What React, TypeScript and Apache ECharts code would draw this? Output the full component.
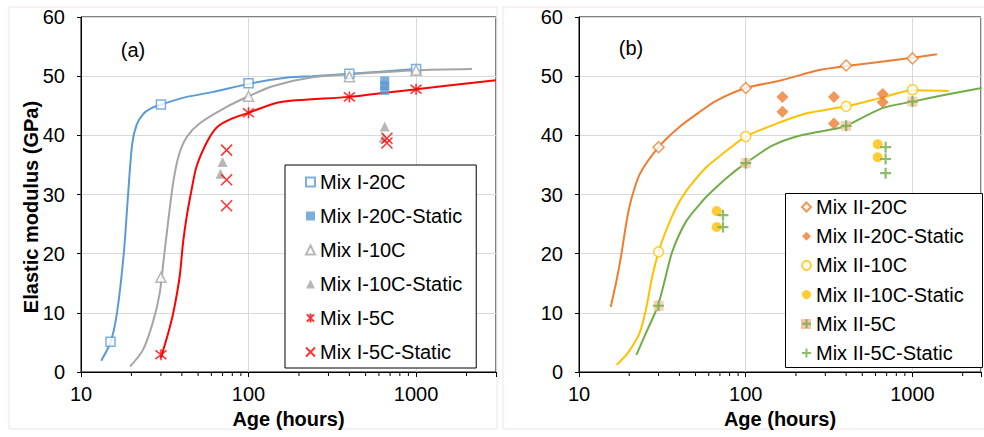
import React, { useEffect, useRef } from 'react';
import * as echarts from 'echarts';

const FONT = '"Liberation Sans", Arial, Helvetica, sans-serif';

// ---- tick values ----
const xLabelValues = [10, 100, 1000];
const minorTickValues = [20, 30, 40, 50, 60, 70, 80, 90, 200, 300, 400, 500, 600, 700, 800, 900, 2000];
const axisMaxA = 3000;
const axisMaxB = 2576;

// ---- panel (a) ----
const mixI20CCurve = [[13.2, 1.9], [15, 5], [16.4, 10], [18, 20], [19.1, 30], [20.2, 38.5], [21.5, 41.8], [23.5, 43.6], [26, 44.5], [30, 45.2], [42.8, 46.5], [61, 47.3], [100, 48.7], [175, 49.8], [240, 50], [400, 50.4], [1000, 51.2]];
const mixI20CPoints = [[15, 5.1], [30, 45.2], [100, 48.8], [400, 50.4], [1000, 51.2]];
const mixI20CStatic = [[650, 49.2], [650, 48.4], [650, 47.6]];

const mixI10CCurve = [[19.6, 0.9], [23.4, 3.7], [26.8, 8.3], [29.5, 13.3], [31, 18.5], [33, 25], [35.5, 32], [38.5, 36.8], [43, 39.8], [51, 42], [74, 44.8], [100, 46.6], [139, 48.3], [240, 49.8], [400, 50.3], [1000, 51.0], [2155, 51.2]];
const mixI10CPoints = [[30, 16], [100, 46.6], [400, 49.9], [1000, 51.0]];
const mixI10CStatic = [[70, 35.5], [68, 33.5], [650, 41.5], [640, 39.6]];

const mixI5CCurve = [[30, 2.4], [33.1, 6.5], [35.5, 9.9], [38.8, 16.1], [40.6, 21.7], [42.6, 26], [45.5, 30.5], [48.9, 34.7], [57.3, 39.2], [65.6, 41.5], [80.7, 42.9], [100, 43.8], [153, 45.6], [400, 46.5], [1000, 47.8], [3000, 49.3]];
const mixI5CPoints = [[30, 2.9], [100, 43.8], [400, 46.5], [1000, 47.8]];
const mixI5CStatic = [[74, 37.5], [74, 32.5], [74, 28.1], [670, 39.5], [670, 38.7]];

// ---- panel (b) ----
const mixII20CCurve = [[15.5, 11], [16.8, 15.5], [18, 20.1], [19.3, 25.5], [20.5, 29], [23.1, 33.4], [30, 38], [40, 41.4], [52, 43.8], [66, 45.8], [100, 48], [164, 49.3], [272, 51], [400, 51.7], [1000, 53.1], [1400, 53.7]];
const mixII20CPoints = [[30, 38], [100, 48], [400, 51.8], [1000, 53]];
const mixII20CStatic = [[166, 46.5], [166, 44], [338, 46.5], [338, 42], [663, 47], [663, 45.6]];

const mixII10CCurve = [[16.8, 1.2], [19.6, 3.2], [23.1, 6.6], [25.4, 11], [27.2, 15.5], [30, 20.3], [33.4, 24], [38.3, 27.8], [44, 30.6], [58, 34.6], [76, 37.3], [100, 39.8], [164, 42.3], [229, 43.7], [400, 44.9], [680, 46.5], [1000, 47.6], [1650, 47.5]];
const mixII10CPoints = [[30, 20.3], [100, 39.8], [400, 44.9], [1000, 47.7]];
const mixII10CStatic = [[67, 27.2], [67, 24.5], [619, 38.5], [619, 36.3]];

const mixII5CCurve = [[22.1, 2.9], [25.4, 6.8], [28.4, 9.8], [30, 11.5], [32.5, 15.2], [36.3, 20.4], [44, 25.5], [55, 28.9], [63, 30.6], [79, 33.1], [100, 35.3], [143, 38.2], [207, 39.9], [357, 41.2], [400, 41.6], [660, 44.6], [1000, 45.7], [1550, 46.8], [2600, 48.0]];
const mixII5CPoints = [[30, 11.2], [100, 35.3], [400, 41.6], [1000, 45.7]];
const mixII5CStatic = [[73, 26.5], [73, 24.5], [690, 38], [690, 36], [690, 33.6]];

const legendA = ['Mix I-20C', 'Mix I-20C-Static', 'Mix I-10C', 'Mix I-10C-Static', 'Mix I-5C', 'Mix I-5C-Static'];
const legendB = ['Mix II-20C', 'Mix II-20C-Static', 'Mix II-10C', 'Mix II-10C-Static', 'Mix II-5C', 'Mix II-5C-Static'];

const BLUE = '#5B9BD5';
const GRAY = '#A5A5A5';
const RED = '#FF0000';
const ORANGE = '#ED7D31';
const YELLOW = '#FFC000';
const GREEN = '#70AD47';
const PEACH = '#F6C4A4';

const STAR = 'path://M1,1L9,9M9,1L1,9M5,0L5,10';
const CROSS = 'path://M0,0L10,10M10,0L0,10';
const PLUS = 'path://M5,0L5,10M0,5L10,5';

const TRANSPARENT = 'rgba(0,0,0,0)';
const FS = 20;

function curve(name: string, data: number[][], color: string, idx: number) {
  return {
    type: 'line', name, data, xAxisIndex: idx, yAxisIndex: idx,
    symbol: 'none', showSymbol: false, smooth: 0.25, silent: true, z: 2,
    lineStyle: { color, width: 2 },
  };
}

function pts(name: string, data: number[][], idx: number, symbol: string, symbolSize: any, itemStyle: any, z = 3) {
  return {
    type: 'scatter', name, data, xAxisIndex: idx, yAxisIndex: idx,
    symbol, symbolSize, itemStyle, z, silent: true,
  };
}

function minorTicks(idx: number) {
  return {
    type: 'custom', xAxisIndex: idx, yAxisIndex: idx, silent: true, clip: false, z: 6,
    data: minorTickValues.map((v) => [v, 0]),
    renderItem: (params: any, api: any) => {
      const p = api.coord([api.value(0), 0]);
      return {
        type: 'line',
        shape: { x1: p[0], y1: p[1], x2: p[0], y2: p[1] + 4 },
        style: { stroke: '#000', lineWidth: 1 },
      };
    },
  };
}

function xAxis(idx: number, max: number) {
  return {
    type: 'log', logBase: 10, gridIndex: idx, min: 10, max, splitNumber: 3,
    axisLine: { show: true, onZero: false, lineStyle: { color: '#000', width: 1 } },
    axisTick: { show: true, inside: false, length: 5, lineStyle: { color: '#000' } },
    axisLabel: {
      margin: 12, fontSize: FS, fontFamily: FONT, color: '#000',
      formatter: (v: number) => (xLabelValues.includes(Math.round(v)) ? String(Math.round(v)) : ''),
    },
    splitLine: { show: true, lineStyle: { color: '#d9d9d9', width: 1 } },
    name: 'Age (hours)', nameLocation: 'middle', nameGap: 36,
    nameTextStyle: { fontWeight: 'bold', fontSize: FS, fontFamily: FONT, color: '#000' },
  };
}

function yAxis(idx: number) {
  return {
    type: 'value', gridIndex: idx, min: 0, max: 60, interval: 10,
    axisLine: { show: true, onZero: false, lineStyle: { color: '#000', width: 1 } },
    axisTick: { show: true, inside: false, length: 4, lineStyle: { color: '#000' } },
    axisLabel: { margin: 16, fontSize: FS, fontFamily: FONT, color: '#000' },
    splitLine: { show: true, lineStyle: { color: '#d9d9d9', width: 1 } },
  };
}

const legendCommon = {
  orient: 'vertical', itemWidth: 9, itemHeight: 9, itemGap: 14,
  textStyle: { fontSize: FS, fontFamily: FONT, color: '#000', lineHeight: 20 },
  selectedMode: false, z: 5,
};

const option: any = {
  animation: false,
  backgroundColor: '#fff',
  grid: [
    { left: 81, top: 17, width: 415, height: 355, show: true, borderColor: '#000', borderWidth: 1, backgroundColor: 'transparent' },
    { left: 579, top: 17, width: 405, height: 355, show: true, borderColor: '#000', borderWidth: 1, backgroundColor: 'transparent' },
  ],
  xAxis: [xAxis(0, axisMaxA), xAxis(1, axisMaxB)],
  yAxis: [yAxis(0), yAxis(1)],
  legend: [
    {
      ...legendCommon, data: legendA, left: 285, top: 165, padding: [7, 14, 6, 20],
      backgroundColor: '#fff', borderColor: '#000', borderWidth: 1,
    },
    {
      ...legendCommon, data: legendB, left: 785, top: 193, padding: [4, 10, 4, 16], itemGap: 9.2,
      backgroundColor: 'transparent', borderWidth: 0,
    },
  ],
  graphic: [
    { type: 'rect', z: -1, shape: { x: 9, y: 7, width: 488, height: 422 }, style: { fill: 'none', stroke: '#f1e3e7', lineWidth: 1 } },
    { type: 'rect', z: -1, shape: { x: 503, y: 7, width: 490, height: 422 }, style: { fill: 'none', stroke: '#f1e3e7', lineWidth: 1 } },
    { type: 'rect', z: 4, shape: { x: 785.5, y: 193.5, width: 197, height: 174 }, style: { fill: '#fff', stroke: '#000', lineWidth: 1 } },
    { type: 'rect', z: 4.5, shape: { x: 801, y: 319, width: 10, height: 10 }, style: { fill: PEACH } },
    {
      type: 'text', x: 133, y: 50, z: 6,
      style: { text: '(a)', font: `${FS}px ${FONT}`, fill: '#000', align: 'center', verticalAlign: 'middle', textAlign: 'center', textVerticalAlign: 'middle' },
    },
    {
      type: 'text', x: 631, y: 48, z: 6,
      style: { text: '(b)', font: `${FS}px ${FONT}`, fill: '#000', align: 'center', verticalAlign: 'middle', textAlign: 'center', textVerticalAlign: 'middle' },
    },
    {
      type: 'text', x: 31, y: 207, rotation: Math.PI / 2, z: 6,
      style: { text: 'Elastic modulus (GPa)', font: `bold ${FS}px ${FONT}`, fill: '#000', align: 'center', verticalAlign: 'middle', textAlign: 'center', textVerticalAlign: 'middle' },
    },
  ],
  series: [
    // panel a
    curve('I-20C curve', mixI20CCurve, BLUE, 0),
    curve('I-10C curve', mixI10CCurve, GRAY, 0),
    curve('I-5C curve', mixI5CCurve, RED, 0),
    pts('Mix I-20C', mixI20CPoints, 0, 'rect', 9, { color: '#fff', borderColor: BLUE, borderWidth: 1.5 }),
    pts('Mix I-20C-Static', mixI20CStatic, 0, 'rect', 9, { color: BLUE }),
    pts('Mix I-10C', mixI10CPoints, 0, 'triangle', 10, { color: '#fff', borderColor: GRAY, borderWidth: 1.5 }),
    pts('Mix I-10C-Static', mixI10CStatic, 0, 'triangle', 10, { color: GRAY }),
    pts('Mix I-5C', mixI5CPoints, 0, STAR, 11, { color: TRANSPARENT, borderColor: RED, borderWidth: 1.6 }),
    pts('Mix I-5C-Static', mixI5CStatic, 0, CROSS, 11, { color: TRANSPARENT, borderColor: RED, borderWidth: 1.6 }),
    minorTicks(0),
    // panel b
    curve('II-20C curve', mixII20CCurve, ORANGE, 1),
    curve('II-10C curve', mixII10CCurve, YELLOW, 1),
    curve('II-5C curve', mixII5CCurve, GREEN, 1),
    pts('Mix II-20C', mixII20CPoints, 1, 'diamond', 11, { color: '#fff', borderColor: ORANGE, borderWidth: 1.5 }),
    pts('Mix II-20C-Static', mixII20CStatic, 1, 'diamond', 12, { color: ORANGE }),
    pts('Mix II-10C', mixII10CPoints, 1, 'circle', 10, { color: '#fff', borderColor: YELLOW, borderWidth: 1.5 }),
    pts('Mix II-10C-Static', mixII10CStatic, 1, 'circle', 10, { color: YELLOW }),
    pts('II-5C marker back', mixII5CPoints, 1, 'rect', 10, { color: PEACH }, 3),
    pts('Mix II-5C', mixII5CPoints, 1, PLUS, 11, { color: TRANSPARENT, borderColor: GREEN, borderWidth: 2.2 }, 4),
    pts('Mix II-5C-Static', mixII5CStatic, 1, PLUS, 11, { color: TRANSPARENT, borderColor: GREEN, borderWidth: 2.2 }, 4),
    minorTicks(1),
  ],
};

export default function App() {
  const ref = useRef<HTMLDivElement>(null);
  useEffect(() => {
    if (!ref.current) return;
    const chart = echarts.init(ref.current, null, { renderer: 'svg' });
    chart.setOption(option);
    return () => chart.dispose();
  }, []);
  return (
    <div
      ref={ref}
      style={{ position: 'absolute', left: 0, top: 0, width: 984, height: 437, background: '#fff' }}
    />
  );
}
